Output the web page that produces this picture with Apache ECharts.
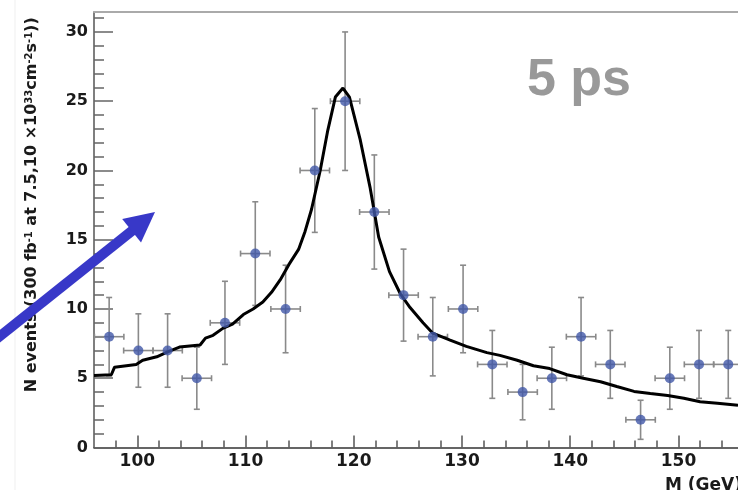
<!DOCTYPE html>
<html><head><meta charset="utf-8">
<script src="https://cdn.jsdelivr.net/npm/echarts@6/dist/echarts.min.js"></script>
<style>html,body{margin:0;padding:0;background:#fff}#c{width:738px;height:490px}</style>
</head><body><div id="c"></div><script>
// Data points (bin centres in GeV, counts, statistical errors)
const massBins = [97.4,100.1,102.8,105.5,108.1,110.9,113.7,116.4,119.2,121.9,124.6,127.3,130.1,132.8,135.6,138.3,141.0,143.7,146.5,149.2,151.9,154.6];
const eventCounts = [8,7,7,5,9,14,10,20,25,17,11,8,10,6,4,5,8,6,2,5,6,6];
const countErrors = [2.83,2.65,2.65,2.24,3.0,3.74,3.16,4.47,5.0,4.12,3.32,2.83,3.16,2.45,2.0,2.24,2.83,2.45,1.41,2.24,2.45,2.45];
const binHalfWidth = 1.36;
// Fit curve
const curveMass = [96.0,97.6,97.9,99.9,100.5,101.8,102.8,103.9,105.8,106.3,107.0,107.9,108.8,109.8,110.7,111.6,112.4,113.2,114.0,114.9,115.5,116.1,116.9,117.6,118.3,119.0,119.6,120.6,121.5,122.3,123.3,124.3,125.2,126.4,127.3,128.9,130.4,132.3,133.5,135.1,136.6,138.1,139.7,141.2,142.8,144.3,145.9,147.4,149.0,150.5,152.0,153.6,155.5];
const curveEvents = [5.2,5.25,5.8,6.0,6.3,6.55,6.9,7.25,7.4,7.9,8.1,8.6,8.9,9.6,10.0,10.5,11.2,12.1,13.2,14.3,15.6,17.2,20.0,22.9,25.3,25.95,25.3,22.2,18.8,15.2,12.7,11.1,10.1,9.0,8.25,7.75,7.3,6.85,6.65,6.3,5.9,5.7,5.25,5.0,4.75,4.4,4.05,3.9,3.75,3.55,3.3,3.2,3.05];
// Axis ticks
const xMajorTicks = [100,110,120,130,140,150];
const xMinorTicks = [98,100,102,104,106,108,110,112,114,116,118,120,122,124,126,128,130,132,134,136,138,140,142,144,146,148,150,152,154];
const yMajorTicks = [0,5,10,15,20,25,30];
const yMinorTicks = [1,2,3,4,6,7,8,9,11,12,13,14,16,17,18,19,21,22,23,24,26,27,28,29,31];
const xRange = [96, 155.5];
const yRange = [0, 31.44];

const pts = massBins.map((m,i)=>[m, eventCounts[i], countErrors[i], binHalfWidth]);
const curve = curveMass.map((m,i)=>[m, curveEvents[i]]);

const labelFont = {fontFamily:'DejaVu Sans', fontWeight:'bold', color:'#1a1a1a'};
const chart = echarts.init(document.getElementById('c'), null, {renderer:'canvas'});
chart.setOption({
  animation:false,
  backgroundColor:'#fff',
  grid:{left:94, right:0, top:12, bottom:42.5, containLabel:false, outerBoundsMode:'none'},
  xAxis:[
    {type:'value', position:'bottom', min:xRange[0], max:xRange[1],
     axisLine:{show:true, lineStyle:{color:'#333', width:1.5}},
     axisTick:{show:true, inside:true, length:12, customValues:xMajorTicks, lineStyle:{color:'#555', width:1.5}},
     axisLabel:{show:true, customValues:xMajorTicks, margin:6, fontSize:17, ...labelFont},
     splitLine:{show:false},
     name:'M (GeV)', nameLocation:'end', nameGap:-73,
     nameTextStyle:{fontSize:17, ...labelFont, align:'left', verticalAlign:'top', padding:[30,0,0,0]}},
    {type:'value', position:'bottom', min:xRange[0], max:xRange[1],
     axisLine:{show:false}, axisLabel:{show:false}, splitLine:{show:false},
     axisTick:{show:true, inside:true, length:7, customValues:xMinorTicks, lineStyle:{color:'#555', width:1.5}}},
    {type:'value', position:'top', min:xRange[0], max:xRange[1],
     axisLine:{show:true, lineStyle:{color:'#aaa', width:2}}, axisTick:{show:false}, axisLabel:{show:false}, splitLine:{show:false}}
  ],
  yAxis:[
    {type:'value', position:'left', min:yRange[0], max:yRange[1],
     axisLine:{show:true, lineStyle:{color:'#555', width:1.5}},
     axisTick:{show:true, inside:true, length:19, customValues:yMajorTicks, lineStyle:{color:'#666', width:1.5}},
     axisLabel:{show:true, customValues:yMajorTicks, margin:6, fontSize:16, ...labelFont},
     splitLine:{show:false},
     name:'N events (300 fb{s|-1} at 7.5,10 ×10{s|33}cm{s|-2}s{s|-1}))',
     nameLocation:'middle', nameRotate:90, nameGap:54,
     nameTextStyle:{fontSize:16, ...labelFont, padding:[0,0,0,50],
       rich:{s:{fontSize:10, fontFamily:'DejaVu Sans', fontWeight:'bold', color:'#1a1a1a', verticalAlign:'top', padding:[0,0,6,0]}}}},
    {type:'value', position:'left', min:yRange[0], max:yRange[1],
     axisLine:{show:false}, axisLabel:{show:false}, splitLine:{show:false},
     axisTick:{show:true, inside:true, length:10, customValues:yMinorTicks, lineStyle:{color:'#666', width:1.5}}}
  ],
  series:[
    {type:'custom', xAxisIndex:0, yAxisIndex:0, z:2, data:pts,
     renderItem:function(params, api){
       const x=api.value(0), y=api.value(1), ey=api.value(2), ex=api.value(3);
       const c=api.coord([x,y]);
       const t=api.coord([x,y+ey]);
       const b=api.coord([x,Math.max(0,y-ey)]);
       const l=api.coord([x-ex,y]);
       const r=api.coord([x+ex,y]);
       const cap=3;
       const st={stroke:'#8a8a8a', lineWidth:1.6};
       return {type:'group', children:[
         {type:'line', shape:{x1:c[0],y1:t[1],x2:c[0],y2:b[1]}, style:st},
         {type:'line', shape:{x1:c[0]-cap,y1:t[1],x2:c[0]+cap,y2:t[1]}, style:st},
         {type:'line', shape:{x1:c[0]-cap,y1:b[1],x2:c[0]+cap,y2:b[1]}, style:st},
         {type:'line', shape:{x1:l[0],y1:c[1],x2:r[0],y2:c[1]}, style:st},
         {type:'line', shape:{x1:l[0],y1:c[1]-cap,x2:l[0],y2:c[1]+cap}, style:st},
         {type:'line', shape:{x1:r[0],y1:c[1]-cap,x2:r[0],y2:c[1]+cap}, style:st}
       ]};
     }},
    {type:'line', xAxisIndex:0, yAxisIndex:0, z:3, data:curve, showSymbol:false, symbol:'none',
     lineStyle:{color:'#000', width:3}, clip:true},
    {type:'scatter', xAxisIndex:0, yAxisIndex:0, z:4, data:pts.map(p=>[p[0],p[1]]),
     symbol:'circle', symbolSize:10, itemStyle:{color:'#4157a8'}}
  ],
  graphic:[
    {type:'line', z:1, shape:{x1:15,y1:0,x2:15,y2:490}, style:{stroke:'#efefef', lineWidth:1}},
    {type:'text', z:10, style:{text:'5 ps', x:579, y:81, align:'center', verticalAlign:'middle',
      fontFamily:'Liberation Sans', fontWeight:'bold', fontSize:52, fill:'#999'}},
    {type:'line', z:10, shape:{x1:-10,y1:344,x2:133,y2:230}, style:{stroke:'#3838c8', lineWidth:10}},
    {type:'polygon', z:10, shape:{points:[[155,212],[141,242.5],[122.2,219]]}, style:{fill:'#3838c8'}}
  ]
});
</script></body></html>
